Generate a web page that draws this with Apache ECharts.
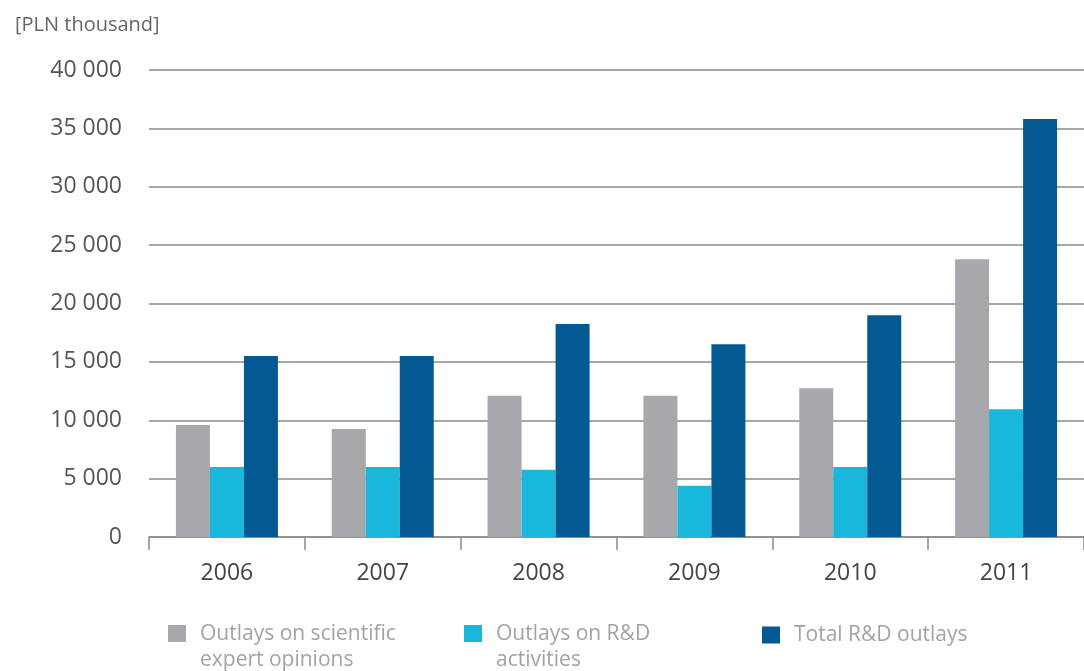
<!DOCTYPE html>
<html>
<head>
<meta charset="utf-8">
<script src="https://cdn.jsdelivr.net/npm/echarts@6/dist/echarts.min.js"></script>
<style>
  html, body { margin: 0; padding: 0; background: #fff; }
  #main { width: 1084px; height: 671px; }
</style>
</head>
<body>
<div id="main"></div>
<script>
// data (PLN thousand)
var years = ['2006', '2007', '2008', '2009', '2010', '2011'];
var expertOpinions = [9600, 9250, 12100, 12100, 12750, 23800];
var rdActivities = [6000, 6000, 5750, 4400, 6000, 10950];
var totalRd = [15500, 15500, 18250, 16500, 19000, 35800];
var seriesNames = ['Outlays on scientific\nexpert opinions', 'Outlays on R&D\nactivities', 'Total R&D outlays'];

var font = 'Open Sans';
var myChart = echarts.init(document.getElementById('main'));

// square at the top of a taller box, so the icon lines up with the first text line
var topSquare = 'path://M0,0L18,0L18,17L0,17Z M0,44';

// one legend per item so each sits where it does in the picture
function legendAt(left, name, twoLines) {
    return {
        left: left,
        top: twoLines ? 616 : 617,
        data: [name],
        icon: twoLines ? topSquare : 'rect',
        itemWidth: 18,
        itemHeight: twoLines ? 44 : 17,
        selectedMode: false,
        textStyle: {
            color: '#a3a3a3',
            fontFamily: font,
            fontSize: 21,
            lineHeight: 26,
            padding: [0, 0, 0, 9]
        }
    };
}

var option = {
    animation: false,
    backgroundColor: '#fff',
    color: ['#a7a8ab', '#1ab7dc', '#035a92'],
    title: {
        text: '[PLN thousand]',
        left: 10,
        top: 10,
        textStyle: {
            color: '#666',
            fontFamily: font,
            fontSize: 20,
            fontWeight: 'normal'
        }
    },
    legend: [
        legendAt(163, seriesNames[0], true),
        legendAt(459, seriesNames[1], true),
        legendAt(757, seriesNames[2], false)
    ],
    grid: {
        left: 149,
        right: -3,
        top: 70,
        bottom: 134
    },
    xAxis: {
        type: 'category',
        data: years,
        axisLine: {lineStyle: {color: '#8a8a8a', width: 1.5}},
        axisTick: {show: true, length: 13, lineStyle: {color: '#8a8a8a', width: 1.5}},
        axisLabel: {
            color: '#444',
            fontFamily: font,
            fontSize: 23,
            margin: 25
        }
    },
    yAxis: {
        type: 'value',
        min: 0,
        max: 40000,
        interval: 5000,
        axisLine: {show: false},
        axisTick: {show: false},
        splitLine: {lineStyle: {color: '#8a8a8a', width: 1.5}},
        axisLabel: {
            color: '#555',
            fontFamily: font,
            fontSize: 23,
            margin: 27,
            formatter: function (v) {
                return String(v).replace(/\B(?=(\d{3})+(?!\d))/g, ' ');
            }
        }
    },
    series: [
        {name: seriesNames[0], type: 'bar', data: expertOpinions, barWidth: 34, barGap: '0%'},
        {name: seriesNames[1], type: 'bar', data: rdActivities, barWidth: 34, barGap: '0%'},
        {name: seriesNames[2], type: 'bar', data: totalRd, barWidth: 34, barGap: '0%'}
    ]
};
myChart.setOption(option);
</script>
</body>
</html>
